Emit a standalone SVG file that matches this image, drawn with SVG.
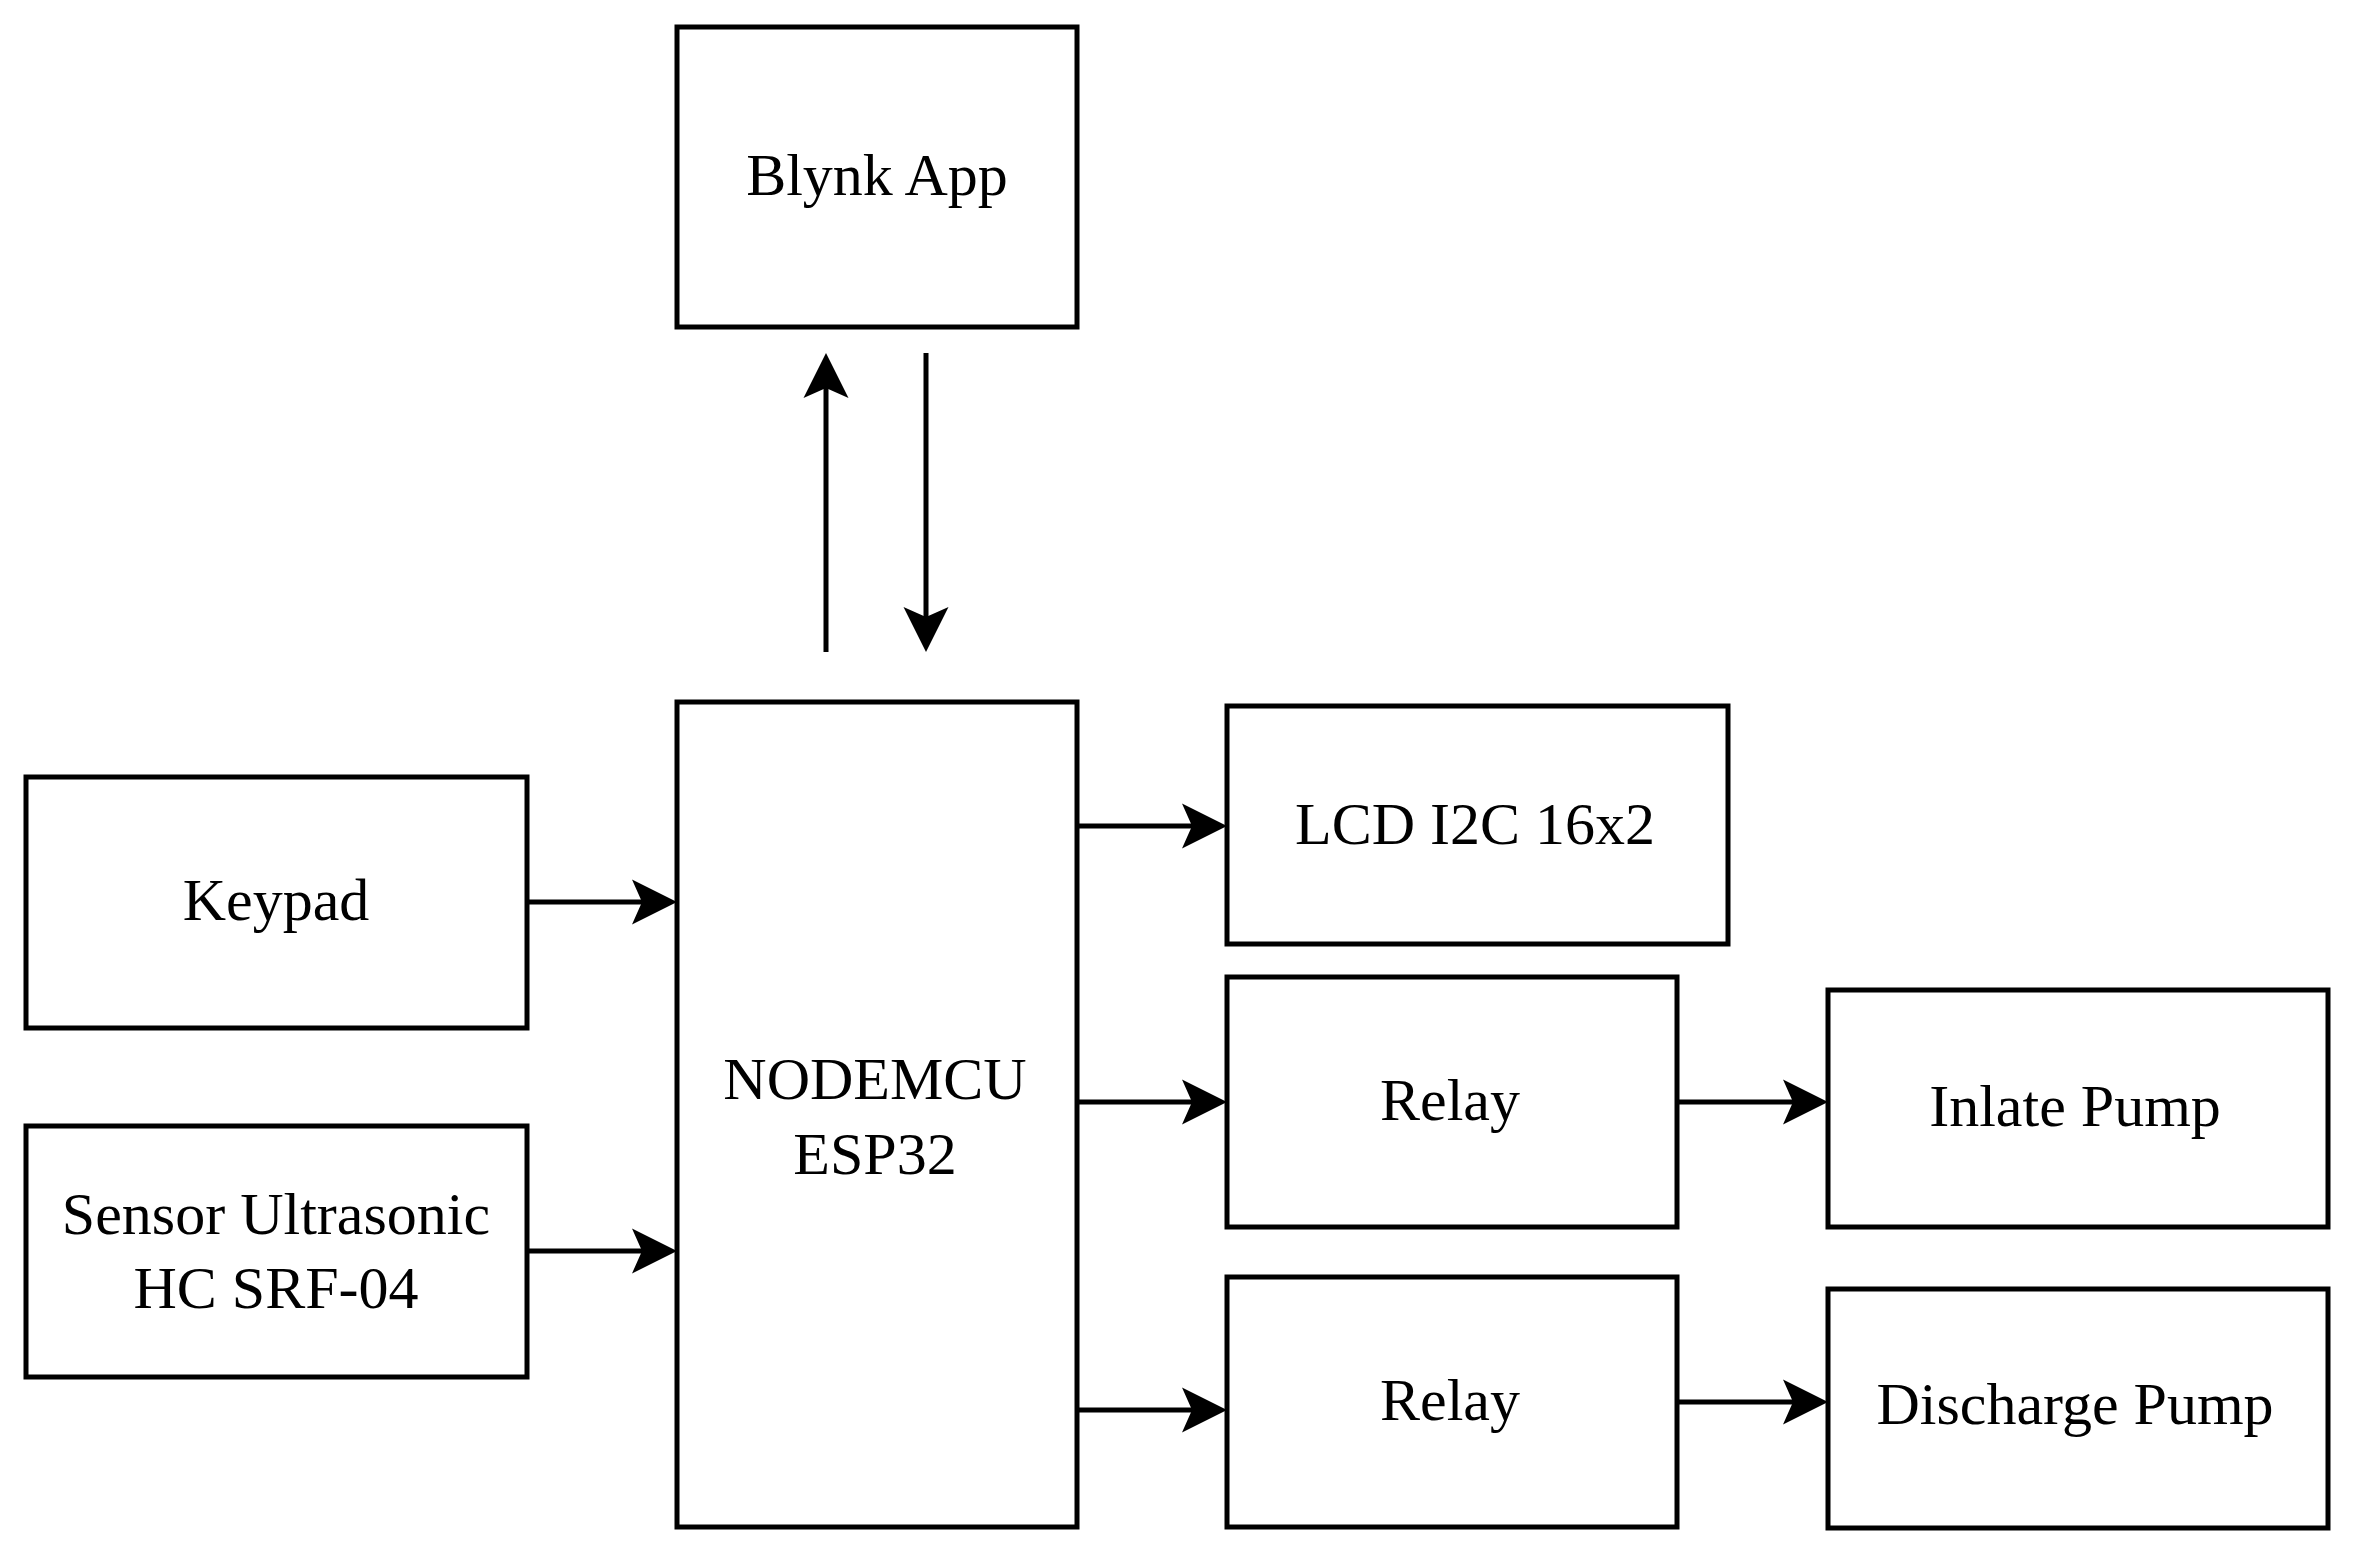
<svg xmlns="http://www.w3.org/2000/svg" width="2360" height="1555" viewBox="0 0 2360 1555">
<style>
.box{fill:#fff;stroke:#000;stroke-width:5}
.lbl{font-family:"Liberation Serif","Times New Roman",serif;font-size:60px;fill:#000;text-anchor:middle}
.con{stroke:#000;stroke-width:5;fill:none;marker-end:url(#arr)}
</style>
<defs>
<marker id="arr" markerUnits="userSpaceOnUse" viewBox="0 -23 46 46" refX="10" refY="0" markerWidth="46" markerHeight="46" orient="auto">
<path d="M0,-22.5 L45,0 L0,22.5 L10,0 Z" fill="#000"/>
</marker>
</defs>
<rect width="2360" height="1555" fill="#fff"/>
<g id="blynk"><rect class="box" x="677" y="27" width="400" height="300"/><text class="lbl" x="877" y="195">Blynk App</text></g>
<g id="nodemcu"><rect class="box" x="677" y="702" width="400" height="825"/><text class="lbl" x="875" y="1099">NODEMCU</text><text class="lbl" x="875" y="1174">ESP32</text></g>
<g id="keypad"><rect class="box" x="26" y="777" width="501" height="251"/><text class="lbl" x="276" y="920">Keypad</text></g>
<g id="sensor"><rect class="box" x="26" y="1126" width="501" height="251"/><text class="lbl" x="276" y="1234">Sensor Ultrasonic</text><text class="lbl" x="276" y="1308">HC SRF-04</text></g>
<g id="lcd"><rect class="box" x="1227" y="706" width="501" height="238"/><text class="lbl" x="1475" y="844">LCD I2C 16x2</text></g>
<g id="relay1"><rect class="box" x="1227" y="977" width="450" height="250"/><text class="lbl" x="1450" y="1120">Relay</text></g>
<g id="relay2"><rect class="box" x="1227" y="1277" width="450" height="250"/><text class="lbl" x="1450" y="1420">Relay</text></g>
<g id="inlate"><rect class="box" x="1828" y="990" width="500" height="237"/><text class="lbl" x="2075" y="1126">Inlate Pump</text></g>
<g id="discharge"><rect class="box" x="1828" y="1289" width="500" height="239"/><text class="lbl" x="2075" y="1424">Discharge Pump</text></g>
<g id="connectors">
<line class="con" x1="826" y1="652" x2="826" y2="388"/>
<line class="con" x1="926" y1="353" x2="926" y2="617"/>
<line class="con" x1="527" y1="902" x2="642" y2="902"/>
<line class="con" x1="527" y1="1251" x2="642" y2="1251"/>
<line class="con" x1="1077" y1="826" x2="1192" y2="826"/>
<line class="con" x1="1077" y1="1102" x2="1192" y2="1102"/>
<line class="con" x1="1077" y1="1410" x2="1192" y2="1410"/>
<line class="con" x1="1677" y1="1102" x2="1793" y2="1102"/>
<line class="con" x1="1677" y1="1402" x2="1793" y2="1402"/>
</g>
</svg>
